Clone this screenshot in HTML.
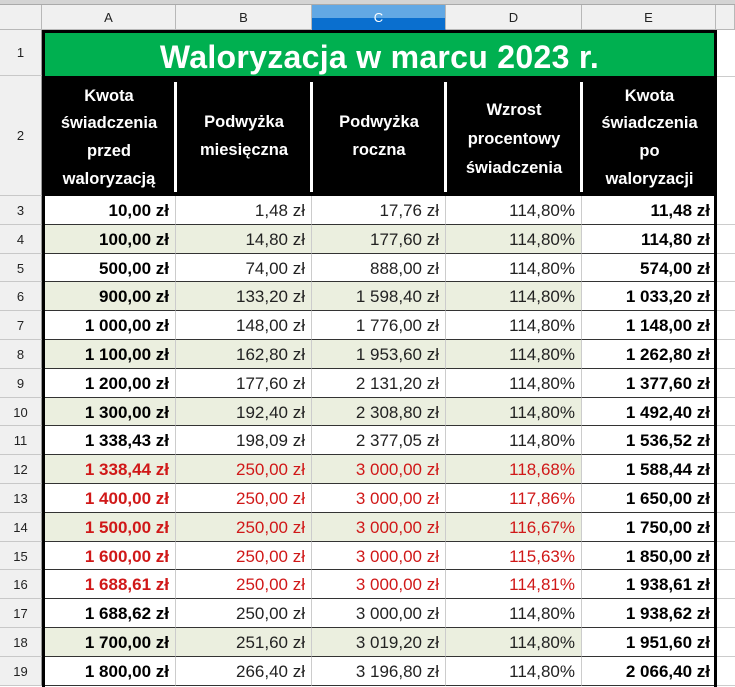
<!DOCTYPE html>
<html><head><meta charset="utf-8"><style>
*{margin:0;padding:0;box-sizing:border-box}
body{width:735px;height:687px;overflow:hidden;background:#fff;font-family:"Liberation Sans",sans-serif;position:relative}
.top{position:absolute;left:0;top:0;width:735px;height:5px;background:#d4d4d4;border-bottom:1px solid #aaa}
.ch{position:absolute;top:5px;height:25px;background:#f0f0f0;border-right:1px solid #b8b8b8;border-bottom:1px solid #b8b8b8;font-size:13px;color:#222;text-align:center;line-height:25px}
.rh{position:absolute;left:0;width:42px;background:#f0f0f0;border-right:1px solid #999;border-bottom:1px solid #c8c8c8;font-size:13px;color:#222;text-align:center}
.title{position:absolute;left:42px;top:30px;width:675px;height:46px;background:#00b050;color:#fff;font-weight:bold;font-size:32px;text-align:center;line-height:48px;border:3px solid #000;border-bottom:none;letter-spacing:0.3px}
.hdr{position:absolute;top:76px;height:120px;background:#000;color:#fff;font-weight:bold;font-size:16.5px;display:flex;align-items:center;justify-content:center;text-align:center;line-height:27.7px}
.sep{position:absolute;top:82px;width:3px;height:110px;background:#fff}
.c{position:absolute;height:28.8px;border-bottom:1px solid #333;border-right:1px solid #ccc;text-align:right;padding-right:6px;font-size:17px;line-height:29px;color:#222;white-space:nowrap}
.b{font-weight:bold;color:#000}
.r{color:#d01818}
.g{background:#ebefdf}
.frameL{position:absolute;left:42px;top:30px;width:3px;height:657px;background:#000}
.frameR{position:absolute;left:714px;top:30px;width:3px;height:657px;background:#000}
</style></head><body>
<div class="top"></div>
<div class="ch" style="left:0;width:42px"></div>
<div class="ch" style="left:42px;width:134px">A</div>
<div class="ch" style="left:176px;width:136px">B</div>
<div class="ch" style="left:312px;width:134px;background:linear-gradient(#62a8e4 0 55%,#0a6fcf 55%);color:#fff;border-bottom:1px solid #0a6fcf">C</div>
<div class="ch" style="left:446px;width:136px">D</div>
<div class="ch" style="left:582px;width:134px">E</div>
<div class="ch" style="left:716px;width:19px"></div>
<div class="rh" style="top:30px;height:46px;line-height:46px">1</div>
<div class="rh" style="top:76px;height:120px;line-height:120px">2</div>
<div class="title">Waloryzacja w marcu 2023 r.</div>
<div class="hdr" style="left:42px;width:134px;padding-top:4px">Kwota<br>świadczenia<br>przed<br>waloryzacją</div>
<div class="hdr" style="left:176px;width:136px;padding-top:2px">Podwyżka<br>miesięczna</div>
<div class="hdr" style="left:312px;width:134px;padding-top:2px">Podwyżka<br>roczna</div>
<div class="hdr" style="left:446px;width:136px;line-height:29px;padding-top:6px">Wzrost<br>procentowy<br>świadczenia</div>
<div class="hdr" style="left:582px;width:135px;padding-top:4px">Kwota<br>świadczenia<br>po<br>waloryzacji</div>
<div class="sep" style="left:174px"></div><div class="sep" style="left:310px"></div><div class="sep" style="left:444px"></div><div class="sep" style="left:580px"></div>
<div style="position:absolute;left:716px;top:76px;width:19px;border-top:1px solid #ccc"></div>
<div id="rows"></div>
<script>
var d=[
["10,00","1,48","17,76","114,80%","11,48"],
["100,00","14,80","177,60","114,80%","114,80"],
["500,00","74,00","888,00","114,80%","574,00"],
["900,00","133,20","1 598,40","114,80%","1 033,20"],
["1 000,00","148,00","1 776,00","114,80%","1 148,00"],
["1 100,00","162,80","1 953,60","114,80%","1 262,80"],
["1 200,00","177,60","2 131,20","114,80%","1 377,60"],
["1 300,00","192,40","2 308,80","114,80%","1 492,40"],
["1 338,43","198,09","2 377,05","114,80%","1 536,52"],
["1 338,44","250,00","3 000,00","118,68%","1 588,44"],
["1 400,00","250,00","3 000,00","117,86%","1 650,00"],
["1 500,00","250,00","3 000,00","116,67%","1 750,00"],
["1 600,00","250,00","3 000,00","115,63%","1 850,00"],
["1 688,61","250,00","3 000,00","114,81%","1 938,61"],
["1 688,62","250,00","3 000,00","114,80%","1 938,62"],
["1 700,00","251,60","3 019,20","114,80%","1 951,60"],
["1 800,00","266,40","3 196,80","114,80%","2 066,40"]];
var X=[42,176,312,446,582],W=[134,136,134,136,135],green=[4,6,8,10,12,14,18],h="";
for(var i=0;i<d.length;i++){var n=i+3,y=196+i*28.8;
h+='<div class="rh" style="top:'+y+'px;height:28.8px;line-height:29px">'+n+'</div>';
for(var j=0;j<5;j++){var cl="c";if(j==0||j==4)cl+=" b";if(n>=12&&n<=16&&j<4)cl+=" r";if(green.indexOf(n)>=0&&j<4)cl+=" g";
var t=d[i][j]+(j==3?"":" zł");
h+='<div class="'+cl+'" style="left:'+X[j]+'px;top:'+y+'px;width:'+W[j]+'px">'+t+'</div>';}
h+='<div style="position:absolute;left:716px;top:'+y+'px;width:19px;height:28.8px;border-bottom:1px solid #ccc"></div>';}
document.getElementById("rows").innerHTML=h;
</script>
<div class="frameL"></div><div class="frameR"></div>
</body></html>
